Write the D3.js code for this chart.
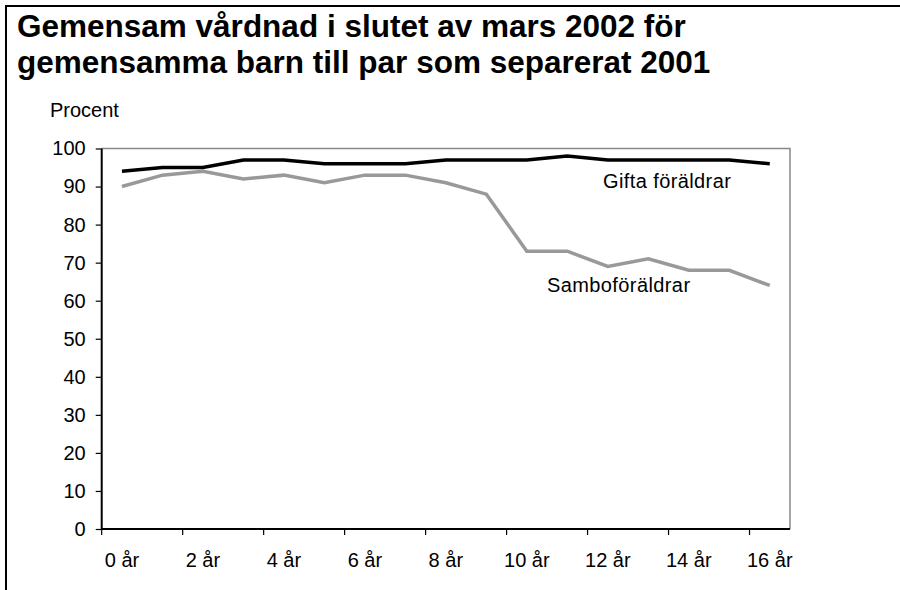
<!DOCTYPE html>
<meta charset="utf-8">
<style>
body { margin: 0; background: #fff; }
text { font-family: "Liberation Sans", Arial, sans-serif; fill: #000; }
.title { font-size: 31.5px; font-weight: bold; }
.axis text { font-size: 20px; }
.axis line, .axis path { stroke: #000; }
</style>
<script src="https://d3js.org/d3.v7.min.js"></script>
<body>
<script>
// ages of the children (categories)
var ages = [0, 1, 2, 3, 4, 5, 6, 7, 8, 9, 10, 11, 12, 13, 14, 15, 16];
var xTickLabels = ["0 år", "2 år", "4 år", "6 år", "8 år", "10 år", "12 år", "14 år", "16 år"];
var yTicks = [0, 10, 20, 30, 40, 50, 60, 70, 80, 90, 100];

// procent with joint custody
var gifta = [94, 95, 95, 97, 97, 96, 96, 96, 97, 97, 97, 98, 97, 97, 97, 97, 96];
var sambo = [90, 93, 94, 92, 93, 91, 93, 93, 91, 88, 73, 73, 69, 71, 68, 68, 64];

var width = 900, height = 590;
var plotLeft = 101.7, plotRight = 790, plotTop = 148.5, plotBottom = 529;

var svg = d3.select("body").append("svg")
    .attr("width", width)
    .attr("height", height);

// outer frame (left and top only)
svg.append("line").attr("x1", 6).attr("x2", 6).attr("y1", 5).attr("y2", height)
    .attr("stroke", "#000").attr("stroke-width", 2);
svg.append("line").attr("x1", 5).attr("x2", width).attr("y1", 6).attr("y2", 6)
    .attr("stroke", "#000").attr("stroke-width", 2);

svg.append("text").attr("class", "title").attr("x", 17).attr("y", 37)
    .text("Gemensam vårdnad i slutet av mars 2002 för");
svg.append("text").attr("class", "title").attr("x", 17).attr("y", 73)
    .text("gemensamma barn till par som separerat 2001");

svg.append("text").attr("x", 50).attr("y", 117).style("font-size", "20px")
    .text("Procent");

var x = d3.scaleBand().domain(ages).range([plotLeft, plotRight]).padding(0);
var y = d3.scaleLinear().domain([0, 100]).range([plotBottom, plotTop]);
var bw = x.bandwidth();

// plot frame top and right in grey
svg.append("path")
    .attr("d", "M" + plotLeft + "," + y(100) + "H" + plotRight + "V" + plotBottom)
    .attr("fill", "none")
    .attr("stroke", "#888")
    .attr("stroke-width", 1.5);

// y axis
var yAxis = svg.append("g").attr("class", "axis")
    .attr("transform", "translate(" + plotLeft + ",0)")
    .call(d3.axisLeft(y).tickValues(yTicks).tickSize(6).tickPadding(10));
yAxis.select(".domain").attr("d", "M0," + plotBottom + "V" + plotTop).attr("stroke-width", 2);
yAxis.selectAll(".tick line").attr("stroke-width", 1.2);

// x axis: ticks on band edges, labels on band centres
var even = ages.filter(function(d) { return d % 2 == 0; });
var xAxis = svg.append("g").attr("class", "axis")
    .attr("transform", "translate(0," + plotBottom + ")")
    .call(d3.axisBottom(x).tickValues(even).tickSize(0).tickPadding(24)
        .tickFormat(function(d, i) { return xTickLabels[i]; }));
xAxis.select(".domain").attr("d", "M" + plotLeft + ",0H" + plotRight).attr("stroke-width", 2);
xAxis.selectAll(".tick line")
    .attr("x1", -bw / 2).attr("x2", -bw / 2)
    .attr("y1", 0).attr("y2", 6)
    .attr("stroke-width", 1.2);
xAxis.selectAll(".tick text").attr("dy", "0.71em");

var line = d3.line()
    .x(function(d, i) { return x(ages[i]) + bw / 2; })
    .y(function(d) { return y(d); });

svg.append("path").datum(sambo)
    .attr("d", line)
    .attr("fill", "none")
    .attr("stroke", "#999")
    .attr("stroke-width", 3.5);

svg.append("path").datum(gifta)
    .attr("d", line)
    .attr("fill", "none")
    .attr("stroke", "#000")
    .attr("stroke-width", 3.5);

svg.append("text").attr("x", 603).attr("y", 188).style("font-size", "20px")
    .style("letter-spacing", "0.4px")
    .text("Gifta föräldrar");
svg.append("text").attr("x", 547).attr("y", 292).style("font-size", "20px")
    .style("letter-spacing", "0.4px")
    .text("Samboföräldrar");
</script>
</body>
